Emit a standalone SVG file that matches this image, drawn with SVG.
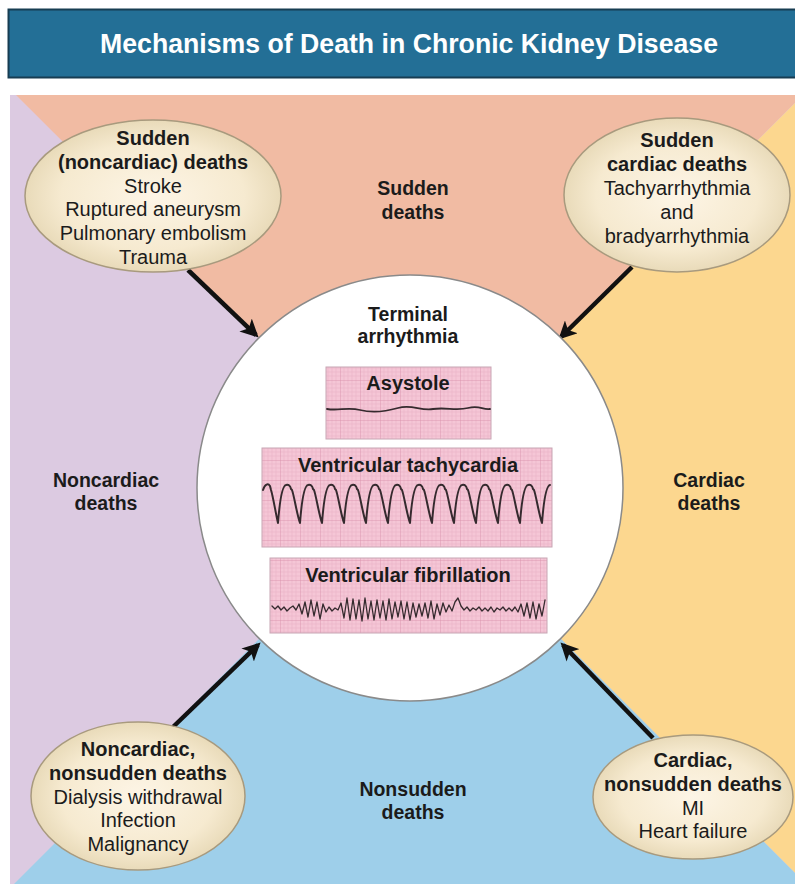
<svg xmlns="http://www.w3.org/2000/svg" width="795" height="884" viewBox="0 0 795 884">
  <defs>
    <style>
      text { font-family: "Liberation Sans", Arial, sans-serif; fill: #1b1b1b; text-anchor: middle; }
      .title { font-family: "Liberation Sans Narrow", "Liberation Sans", Arial, sans-serif; font-size: 28px; font-weight: bold; fill: #ffffff; }
      .region { font-size: 19.5px; font-weight: bold; }
      .head { font-size: 20px; font-weight: bold; }
      .item { font-size: 20px; }
      .strip-label { font-size: 20px; font-weight: bold; }
      .bubble { fill: url(#cream); stroke: #a89a7e; stroke-width: 1.5; }
      .strip { fill: url(#ecgGrid); stroke: #c8a6b4; stroke-width: 1; }
      .trace { fill: none; stroke: #352a2e; stroke-linejoin: round; stroke-linecap: round; }
      .arrow { fill: none; stroke: #111111; stroke-width: 4.5; marker-end: url(#head); }
    </style>
    <radialGradient id="cream" cx="50%" cy="50%" r="55%">
      <stop offset="0" stop-color="#fdf5e6"/>
      <stop offset="0.65" stop-color="#f6ead0"/>
      <stop offset="1" stop-color="#e4d5b1"/>
    </radialGradient>
    <pattern id="ecgGrid" patternUnits="userSpaceOnUse" x="0" y="0" width="20" height="20">
      <rect width="20" height="20" fill="#f5c6d6"/>
      <path d="M4,0V20M8,0V20M12,0V20M16,0V20M0,4H20M0,8H20M0,12H20M0,16H20" stroke="#eab0c4" stroke-width="0.6"/>
      <path d="M0,0V20M0,0H20" stroke="#d992ae" stroke-width="0.9"/>
    </pattern>
    <marker id="head" viewBox="0 0 10 10" refX="8" refY="5" markerWidth="4" markerHeight="4" orient="auto" markerUnits="strokeWidth">
      <path d="M0,0 L10,5 L0,10 L2.5,5 Z" fill="#111111"/>
    </marker>
  </defs>

  <rect width="795" height="884" fill="#ffffff"/>

  <!-- title banner -->
  <g id="title">
    <rect x="8.5" y="9.5" width="790" height="68" fill="#236f96" stroke="#173d52" stroke-width="2"/>
    <text class="title" x="409" y="53" textLength="618" lengthAdjust="spacingAndGlyphs">Mechanisms of Death in Chronic Kidney Disease</text>
  </g>

  <!-- four quadrants meeting behind the centre circle -->
  <g id="quadrants">
    <rect x="10" y="95" width="785" height="789" fill="#dccae1"/>
    <polygon points="16,95 795,95 795,103 410,488" fill="#f1bba3"/>
    <polygon points="795,103 795,873 410,488" fill="#fcd78f"/>
    <polygon points="410,488 795,873 795,884 14,884" fill="#9ecfea"/>
  </g>

  <g id="quadrant-labels">
    <text class="region" x="413" y="195">Sudden</text>
    <text class="region" x="413" y="219">deaths</text>
    <text class="region" x="106" y="487">Noncardiac</text>
    <text class="region" x="106" y="510">deaths</text>
    <text class="region" x="709" y="487">Cardiac</text>
    <text class="region" x="709" y="510">deaths</text>
    <text class="region" x="413" y="796">Nonsudden</text>
    <text class="region" x="413" y="819">deaths</text>
  </g>

  <!-- arrows into the centre -->
  <g id="connectors">
    <line class="arrow" x1="188" y1="270" x2="256" y2="335"/>
    <line class="arrow" x1="632" y1="267" x2="561" y2="337"/>
    <line class="arrow" x1="173" y1="727" x2="258" y2="645"/>
    <line class="arrow" x1="653" y1="738" x2="563" y2="645"/>
  </g>

  <!-- centre: terminal arrhythmia -->
  <g id="terminal-arrhythmia">
    <circle cx="410" cy="488" r="213" fill="#ffffff" stroke="#8a8a8a" stroke-width="1.5"/>
    <text class="region" x="408" y="321">Terminal</text>
    <text class="region" x="408" y="343">arrhythmia</text>
  </g>

  <g id="asystole">
    <rect class="strip" x="326" y="367" width="165" height="72"/>
    <text class="strip-label" x="408" y="390">Asystole</text>
    <path class="trace" stroke-width="1.8" d="M327,409 C338,411 348,407 360,410 S384,412 398,408 S420,411 433,409 S456,411 468,408 S482,410 490,409"/>
  </g>

  <g id="ventricular-tachycardia">
    <rect class="strip" x="262" y="448" width="290" height="99"/>
    <text class="strip-label" x="408" y="472">Ventricular tachycardia</text>
    <path class="trace" stroke-width="2" d="M263,490 C265,484 268,483 270,486 L271,490 C273,496 276,515 278,523
      c1,-13 3,-37 8,-38 q4,-1 5,4 l1,1 c2,5 5,25 8,33
      c1,-13 3,-37 8,-38 q4,-1 5,4 l1,1 c2,5 5,25 8,33
      c1,-13 3,-37 8,-38 q4,-1 5,4 l1,1 c2,5 5,25 8,33
      c1,-13 3,-37 8,-38 q4,-1 5,4 l1,1 c2,5 5,25 8,33
      c1,-13 3,-37 8,-38 q4,-1 5,4 l1,1 c2,5 5,25 8,33
      c1,-13 3,-37 8,-38 q4,-1 5,4 l1,1 c2,5 5,25 8,33
      c1,-13 3,-37 8,-38 q4,-1 5,4 l1,1 c2,5 5,25 8,33
      c1,-13 3,-37 8,-38 q4,-1 5,4 l1,1 c2,5 5,25 8,33
      c1,-13 3,-37 8,-38 q4,-1 5,4 l1,1 c2,5 5,25 8,33
      c1,-13 3,-37 8,-38 q4,-1 5,4 l1,1 c2,5 5,25 8,33
      c1,-13 3,-37 8,-38 q4,-1 5,4 l1,1 c2,5 5,25 8,33
      c1,-13 3,-37 8,-38 q4,-1 5,4 l1,1 c2,5 5,25 8,33
      c1,-13 3,-37 8,-38"/>
  </g>

  <g id="ventricular-fibrillation">
    <rect class="strip" x="270" y="558" width="277" height="75"/>
    <text class="strip-label" x="408" y="582">Ventricular fibrillation</text>
    <polyline class="trace" stroke-width="1.3" points="272,606 275,609 278,606 281,610 284,607 287,611 290,608 293,606 296,610 299,604 302,614 305,602 308,617 311,600 314,616 317,602 320,619 323,604 326,612 329,607 332,611 335,608 338,610 341,603 344,618 347,598 350,620 353,599 356,619 359,600 362,621 365,598 368,619 371,601 374,620 377,600 380,618 383,601 386,620 389,599 392,619 395,602 398,617 401,601 404,619 407,602 410,620 413,603 416,617 419,604 422,616 425,603 428,618 431,601 434,619 437,604 440,615 443,603 446,612 449,605 452,611 455,602 458,598 461,606 464,610 467,607 470,611 473,608 476,610 479,607 482,611 485,608 488,611 491,607 494,612 497,608 500,610 503,607 506,611 509,608 512,611 515,607 518,612 521,604 524,616 527,603 530,618 533,602 536,619 539,604 542,616 545,600"/>
  </g>

  <!-- corner bubbles -->
  <g id="sudden-noncardiac">
    <ellipse class="bubble" cx="153" cy="196" rx="128" ry="76"/>
    <text class="head" x="153" y="145">Sudden</text>
    <text class="head" x="153" y="169">(noncardiac) deaths</text>
    <text class="item" x="153" y="193">Stroke</text>
    <text class="item" x="153" y="216">Ruptured aneurysm</text>
    <text class="item" x="153" y="240">Pulmonary embolism</text>
    <text class="item" x="153" y="264">Trauma</text>
  </g>

  <g id="sudden-cardiac">
    <ellipse class="bubble" cx="677" cy="195" rx="113" ry="77"/>
    <text class="head" x="677" y="147">Sudden</text>
    <text class="head" x="677" y="171">cardiac deaths</text>
    <text class="item" x="677" y="195">Tachyarrhythmia</text>
    <text class="item" x="677" y="219">and</text>
    <text class="item" x="677" y="243">bradyarrhythmia</text>
  </g>

  <g id="noncardiac-nonsudden">
    <ellipse class="bubble" cx="138" cy="796" rx="107" ry="74"/>
    <text class="head" x="138" y="756">Noncardiac,</text>
    <text class="head" x="138" y="780">nonsudden deaths</text>
    <text class="item" x="138" y="804">Dialysis withdrawal</text>
    <text class="item" x="138" y="827">Infection</text>
    <text class="item" x="138" y="851">Malignancy</text>
  </g>

  <g id="cardiac-nonsudden">
    <ellipse class="bubble" cx="693" cy="797" rx="100" ry="62"/>
    <text class="head" x="693" y="767">Cardiac,</text>
    <text class="head" x="693" y="791">nonsudden deaths</text>
    <text class="item" x="693" y="815">MI</text>
    <text class="item" x="693" y="838">Heart failure</text>
  </g>
</svg>
